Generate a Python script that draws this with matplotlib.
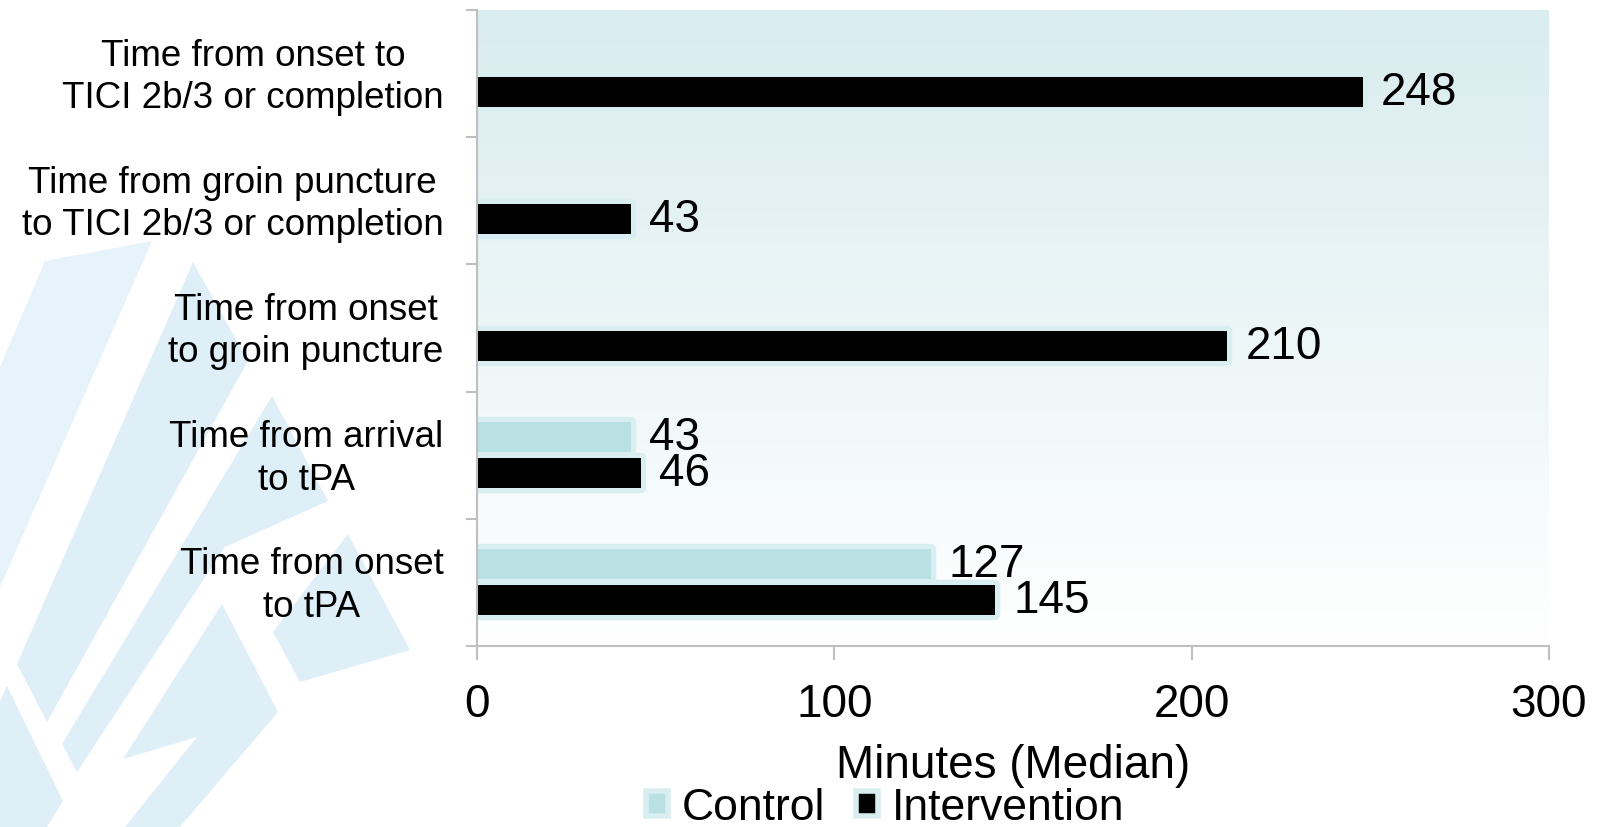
import numpy as np
import matplotlib.pyplot as plt
import matplotlib.patheffects as pe
from matplotlib.patches import Patch, Polygon

plt.rcParams['font.family'] = ['Liberation Sans', 'DejaVu Sans']

# categories from bottom to top
categories = [
    "Time from onset\nto tPA",
    "Time from arrival\nto tPA",
    "Time from onset\nto groin puncture",
    "Time from groin puncture\nto TICI 2b/3 or completion",
    "Time from onset to\nTICI 2b/3 or completion",
]
control = [127, 43, None, None, None]
intervention = [145, 46, 210, 43, 248]
x_ticks = [0, 100, 200, 300]

control_color = "#b9e0e3"
glow_color = "#d9eef1"
shape_color = "#dfeff8"
pale_color = "#e7f3fa"

W, H = 1606, 828
fig = plt.figure(figsize=(W / 100, H / 100), dpi=100)


def px(points):
    return [(x / W, 1 - y / H) for x, y in points]


# light backdrop shapes in the lower left corner
shapes = [
    ([(45, 262), (152, 242), (0, 588), (0, 368)], pale_color),
    ([(193, 263), (248, 362), (47, 723), (17, 665)], shape_color),
    ([(272, 397), (328, 502), (225, 548), (77, 773), (62, 745)], shape_color),
    ([(222, 605), (278, 713), (180, 828), (125, 828), (197, 738), (123, 760)], shape_color),
    ([(348, 535), (410, 651), (300, 683), (273, 633)], shape_color),
    ([(0, 702), (7, 687), (63, 802), (47, 828), (0, 828)], shape_color),
]
for pts, col in shapes:
    fig.add_artist(Polygon(px(pts), closed=True, facecolor=col,
                           edgecolor="none", transform=fig.transFigure, zorder=0))

ax = fig.add_axes([477 / W, 1 - 647 / H, (1549 - 477) / W, (647 - 11) / H])
ax.set_facecolor("none")

# vertical gradient behind the bars
grad = np.linspace(0, 1, 256).reshape(-1, 1)
top = np.array([217, 236, 239]) / 255
bottom = np.array([255, 255, 255]) / 255
img = top + (bottom - top) * grad[:, :, None]
ax.imshow(img, extent=[0, 1, 0, 1], transform=ax.transAxes, aspect="auto",
          zorder=0, origin="upper")

pos = np.arange(len(categories))
h = 0.236
off = 0.142
glow = [pe.Stroke(linewidth=7.5, foreground=glow_color, joinstyle="round"), pe.Normal()]

c_pos = [p + off for p, v in zip(pos, control) if v is not None]
c_val = [v for v in control if v is not None]
bars_c = ax.barh(c_pos, c_val, height=h, color=control_color, zorder=2)
bars_i = ax.barh(pos - off, intervention, height=h, color="black", zorder=2)
for b in list(bars_c) + list(bars_i):
    b.set_path_effects(glow)

ax.bar_label(bars_c, padding=13, fontsize=33)
ax.bar_label(bars_i, padding=13, fontsize=33)

ax.set_xlim(0, 300)
ax.set_ylim(-0.5, len(categories) - 0.5)
ax.set_xticks(x_ticks)
ax.set_xticklabels([str(t) for t in x_ticks], fontsize=33)
ax.set_yticks(np.arange(-0.5, len(categories)))
ax.set_yticklabels([])
# category names sit on invisible minor ticks, slightly above band centre
ax.set_yticks(pos + 0.04, minor=True)
ax.set_yticklabels(categories, minor=True, fontsize=26.5, multialignment="center",
                   linespacing=1.28)

ax.tick_params(axis="y", which="major", length=8, width=1.5, color="#bfbfbf")
ax.tick_params(axis="y", which="minor", length=0, pad=24)
ax.tick_params(axis="x", length=10, width=1.5, color="#bfbfbf", pad=16)
for side in ["top", "right"]:
    ax.spines[side].set_visible(False)
for side in ["left", "bottom"]:
    ax.spines[side].set_color("#bfbfbf")
    ax.spines[side].set_linewidth(1.5)

ax.set_xlabel("Minutes (Median)", fontsize=33, labelpad=12)

handles = [
    Patch(facecolor=control_color, edgecolor=glow_color, linewidth=4, label="Control"),
    Patch(facecolor="black", edgecolor=glow_color, linewidth=4, label="Intervention"),
]
fig.legend(handles=handles, loc="center", bbox_to_anchor=(885 / W, 1 - 809 / H),
           ncol=2, frameon=False, fontsize=32, handlelength=0.5, handleheight=0.5,
           handletextpad=0.3, columnspacing=0.7, borderpad=0)

fig.savefig("out.png", dpi=100)
